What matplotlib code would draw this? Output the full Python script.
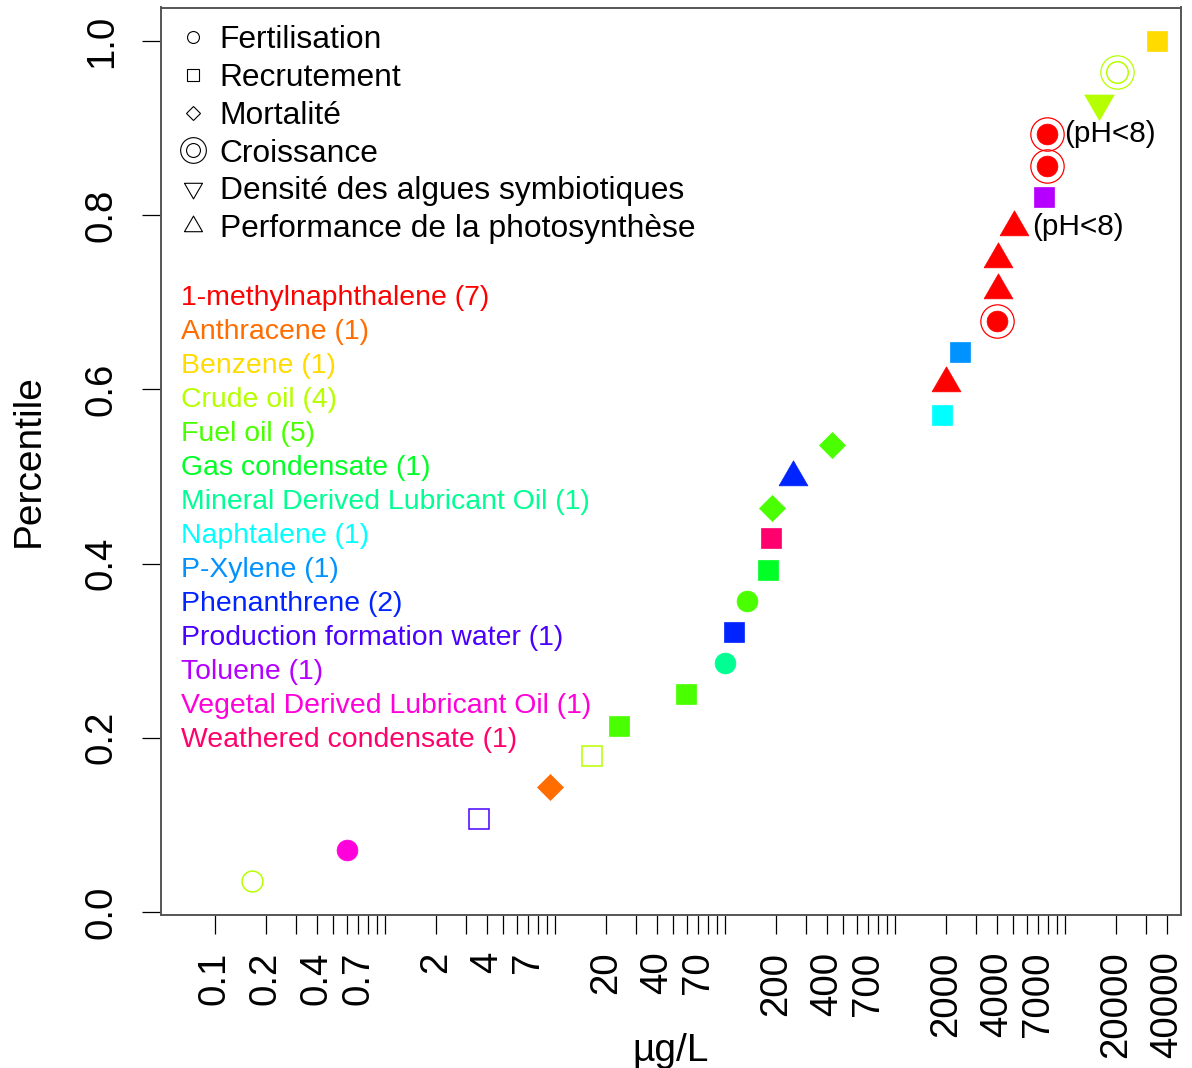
import matplotlib
matplotlib.use('Agg')
import matplotlib.pyplot as plt
from matplotlib.lines import Line2D

plt.rcParams['font.family'] = ['Liberation Sans', 'DejaVu Sans']

# ---------------- data ----------------
concentration = [0.165, 0.60, 3.6, 9.4, 16.7, 24, 59, 100, 114, 136, 181, 187, 190, 252,
                 427, 1910, 2010, 2430, 3990, 4040, 4040, 5060, 7600, 7850, 7850, 15900,
                 20300, 34800]
percentile = [0.036, 0.071, 0.107, 0.143, 0.179, 0.214, 0.250, 0.286, 0.321, 0.357,
              0.393, 0.429, 0.464, 0.500, 0.536, 0.571, 0.607, 0.643, 0.679, 0.714,
              0.750, 0.786, 0.821, 0.857, 0.893, 0.929, 0.964, 1.000]
endpoint = ['Fertilisation', 'Fertilisation', 'Recrutement', 'Mortalité', 'Recrutement',
            'Recrutement', 'Recrutement', 'Fertilisation', 'Recrutement', 'Fertilisation',
            'Recrutement', 'Recrutement', 'Mortalité', 'Performance de la photosynthèse',
            'Mortalité', 'Recrutement', 'Performance de la photosynthèse', 'Recrutement',
            'Croissance', 'Performance de la photosynthèse', 'Performance de la photosynthèse',
            'Performance de la photosynthèse', 'Recrutement', 'Croissance', 'Croissance',
            'Densité des algues symbiotiques', 'Croissance', 'Recrutement']
substance = ['Crude oil', 'Vegetal Derived Lubricant Oil', 'Production formation water',
             'Anthracene', 'Crude oil', 'Fuel oil', 'Fuel oil', 'Mineral Derived Lubricant Oil',
             'Phenanthrene', 'Fuel oil', 'Gas condensate', 'Weathered condensate', 'Fuel oil',
             'Phenanthrene', 'Fuel oil', 'Naphtalene', '1-methylnaphthalene', 'P-Xylene',
             '1-methylnaphthalene', '1-methylnaphthalene', '1-methylnaphthalene',
             '1-methylnaphthalene', 'Toluene', '1-methylnaphthalene', '1-methylnaphthalene',
             'Crude oil', 'Crude oil', 'Benzene']
filled = [False, True, False, True, False, True, True, True, True, True, True, True, True, True,
          True, True, True, True, True, True, True, True, True, True, True, True, False, True]
notes = ['', '', '', '', '', '', '', '', '', '', '', '', '', '', '', '', '', '', '', '', '',
         '(pH<8)', '', '', '(pH<8)', '', '', '']

endpoints = ['Fertilisation', 'Recrutement', 'Mortalité', 'Croissance',
             'Densité des algues symbiotiques', 'Performance de la photosynthèse']
substances = ['1-methylnaphthalene', 'Anthracene', 'Benzene', 'Crude oil', 'Fuel oil',
              'Gas condensate', 'Mineral Derived Lubricant Oil', 'Naphtalene', 'P-Xylene',
              'Phenanthrene', 'Production formation water', 'Toluene',
              'Vegetal Derived Lubricant Oil', 'Weathered condensate']
substance_counts = [7, 1, 1, 4, 5, 1, 1, 1, 1, 2, 1, 1, 1, 1]

xtick_values = [0.1, 0.2, 0.3, 0.4, 0.5, 0.6, 0.7, 0.8, 0.9,
                1, 2, 3, 4, 5, 6, 7, 8, 9,
                10, 20, 30, 40, 50, 60, 70, 80, 90,
                100, 200, 300, 400, 500, 600, 700, 800, 900,
                1000, 2000, 3000, 4000, 5000, 6000, 7000, 8000, 9000,
                10000, 20000, 30000, 40000]
xtick_labels = ['0.1', '0.2', '', '0.4', '', '', '0.7', '', '',
                '', '2', '', '4', '', '', '7', '', '',
                '', '20', '', '40', '', '', '70', '', '',
                '', '200', '', '400', '', '', '700', '', '',
                '', '2000', '', '4000', '', '', '7000', '', '',
                '', '20000', '', '40000']
ytick_values = [0.0, 0.2, 0.4, 0.6, 0.8, 1.0]
ytick_labels = ['0.0', '0.2', '0.4', '0.6', '0.8', '1.0']

# ---------------- styles ----------------
palette = {
    '1-methylnaphthalene': '#FF0000', 'Anthracene': '#FF6D00', 'Benzene': '#FFDB00',
    'Crude oil': '#B6FF00', 'Fuel oil': '#49FF00', 'Gas condensate': '#00FF24',
    'Mineral Derived Lubricant Oil': '#00FF92', 'Naphtalene': '#00FFFF',
    'P-Xylene': '#0092FF', 'Phenanthrene': '#0024FF', 'Production formation water': '#4900FF',
    'Toluene': '#B600FF', 'Vegetal Derived Lubricant Oil': '#FF00DB',
    'Weathered condensate': '#FF006D'}

tri_up = [(-0.5, -0.2887), (0.5, -0.2887), (0.0, 0.5774), (-0.5, -0.2887)]
tri_down = [(-0.5, 0.2887), (0.5, 0.2887), (0.0, -0.5774), (-0.5, 0.2887)]
marker_style = {
    'Fertilisation': ('o', 15.0),
    'Recrutement': ('s', 14.0),
    'Mortalité': ('D', 13.5),
    'Croissance': ('o', 15.0),
    'Densité des algues symbiotiques': (tri_down, 24.5),
    'Performance de la photosynthèse': (tri_up, 24.0),
}

fig = plt.figure(figsize=(11.92, 10.68), dpi=100)
ax = fig.add_axes([160.5 / 1192, (1068 - 914.5) / 1068, 1020.5 / 1192, 907 / 1068])
ax.set_xscale('log')
ax.set_xlim(0.0481, 48400)
ax.set_ylim(-0.0029, 1.0386)

for xv, yv, ep, sub, fl, note in zip(concentration, percentile, endpoint, substance, filled, notes):
    c = palette[sub]
    m, ms = marker_style[ep]
    if ep == 'Croissance' and not fl:
        ms = 15.5
    ax.plot([xv], [yv], linestyle='none', marker=m, markersize=ms,
            markerfacecolor=c if fl else 'none', markeredgecolor=c,
            markeredgewidth=0.5 if fl else 1.1)
    if ep == 'Croissance':
        ax.plot([xv], [yv], linestyle='none', marker='o', markersize=24,
                markerfacecolor='none', markeredgecolor=c, markeredgewidth=0.9)
    if note:
        ax.annotate(note, (xv, yv), xytext=(12.5, 0), textcoords='offset points',
                    ha='left', va='center', fontsize=21.4, color='black')

# axes styling
for sp in ax.spines.values():
    sp.set_color('#555555')
    sp.set_linewidth(1.4)
ax.set_xticks(xtick_values)
ax.set_xticklabels(xtick_labels, rotation=90)
ax.xaxis.set_minor_locator(matplotlib.ticker.NullLocator())
ax.set_yticks(ytick_values)
ax.set_yticklabels(ytick_labels, rotation=90, va='center')
ax.tick_params(axis='both', direction='out', length=13.7, width=0.9, color='black',
               labelsize=27.6)
ax.tick_params(axis='x', pad=13)
ax.tick_params(axis='y', pad=15.5)

ax.set_xlabel('µg/L', fontsize=28, va='center')
ax.xaxis.set_label_coords(0.5, -0.151)
ax.set_ylabel('Percentile', fontsize=28, va='center')
ax.yaxis.set_label_coords(-0.1295, 0.5)

# shape legend
h_open = dict(linestyle='none', markerfacecolor='none', markeredgecolor='black', markeredgewidth=0.8)
shape_handles = [
    Line2D([], [], marker='o', markersize=8.6, **h_open),
    Line2D([], [], marker='s', markersize=8.4, **h_open),
    Line2D([], [], marker='D', markersize=7.1, **h_open),
    (Line2D([], [], marker='o', markersize=18.5, **h_open),
     Line2D([], [], marker='o', markersize=10.0, **h_open)),
    Line2D([], [], marker=tri_down, markersize=15.0, **h_open),
    Line2D([], [], marker=tri_up, markersize=15.0, **h_open),
]
leg1 = ax.legend(shape_handles, endpoints, loc='upper left', bbox_to_anchor=(0.0193, 0.9805),
                 frameon=False, fontsize=22.9, borderpad=0, borderaxespad=0,
                 handlelength=0.8, handletextpad=0.44, labelspacing=0.245)
ax.add_artist(leg1)

# colour legend
color_handles = [Line2D([], [], linestyle='none') for _ in substances]
color_labels = [f'{s} ({n})' for s, n in zip(substances, substance_counts)]
leg2 = ax.legend(color_handles, color_labels, loc='upper left', bbox_to_anchor=(0.0200, 0.6942),
                 frameon=False, fontsize=20.4, borderpad=0, borderaxespad=0,
                 handlelength=0, handletextpad=0, labelspacing=0.284,
                 labelcolor=[palette[s] for s in substances])

fig.savefig('out.png', dpi=100)
